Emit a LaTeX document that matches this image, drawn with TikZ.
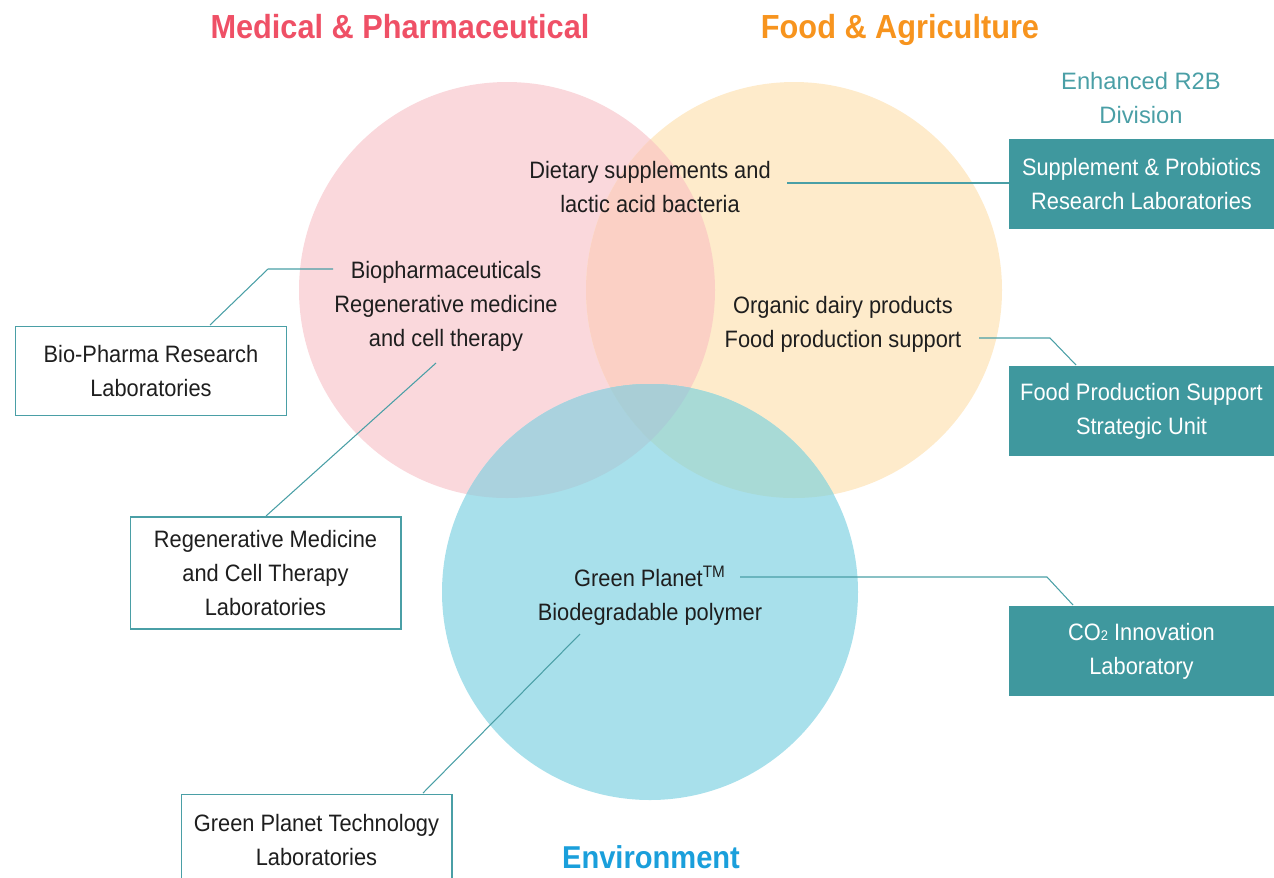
\documentclass[tikz,border=0pt]{standalone}
\usepackage{fontspec}
\setmainfont{Liberation Sans}[FakeStretch=0.92]
\newfontfamily\plainfont{Liberation Sans}
\usetikzlibrary{positioning}
\definecolor{medred}{HTML}{EF5066}
\definecolor{foodorange}{HTML}{F7941E}
\definecolor{envblue}{HTML}{1A9FDB}
\definecolor{tealbox}{HTML}{3F989E}
\definecolor{tealline}{HTML}{4A9FA6}
\definecolor{pinkfill}{HTML}{FAD8DC}
\definecolor{yellowfill}{HTML}{FEEBCB}
\definecolor{pyfill}{HTML}{FBD0C5}
\definecolor{bluefill}{HTML}{A8E0EB}
\definecolor{bpfill}{HTML}{AAD2DE}
\definecolor{byfill}{HTML}{A8DAD6}
\definecolor{allfill}{HTML}{A9CED6}
\definecolor{ink}{HTML}{1E1E1E}

\begin{document}
\begin{tikzpicture}[x=0.02cm, y=-0.02cm, every node/.style={font=\fontsize{13.5}{19.4}\selectfont, text=ink, align=center},
  title/.style={font=\fontsize{19}{22}\selectfont\bfseries, anchor=base},
  unit/.style={fill=tealbox, text=white, minimum width=5.3cm, minimum height=1.8cm, inner sep=0pt},
  lab/.style={draw=tealline, fill=white, line width=0.6pt, minimum width=5.42cm, inner sep=0pt},
  lead/.style={draw=tealline, line width=0.6pt}]
\useasboundingbox (0,0) rectangle (1274,877);
% circles
\coordinate (cmed) at (507,290);
\coordinate (cfood) at (794,290);
\coordinate (cenv) at (650,592);
\fill[pinkfill] (cmed) circle (208);
\fill[yellowfill] (cfood) circle (208);
\begin{scope}
\clip (cmed) circle (208);
\fill[pyfill] (cfood) circle (208);
\end{scope}
\fill[bluefill] (cenv) circle (208);
\begin{scope}
\clip (cenv) circle (208);
\fill[bpfill] (cmed) circle (208);
\fill[byfill] (cfood) circle (208);
\clip (cmed) circle (208);
\fill[allfill] (cfood) circle (208);
\end{scope}
% titles
\node[title, text=medred] (tmed) at (400,38) {Medical \& Pharmaceutical};
\node[title, text=foodorange] (tfood) at (900,38) {Food \& Agriculture};
\node[title, text=envblue, font=\fontsize{18}{22}\selectfont\bfseries] (tenv) at (651,868) {Environment};
\node[font=\plainfont\fontsize{13.5}{19.4}\selectfont, text=tealline] (r2b) at (1141,98) {Enhanced R2B\\Division};
% texts in circles
\node (diet) at (650,187) {Dietary supplements and\\lactic acid bacteria};
\node (bio) at (446,306) {Biopharmaceuticals\\Regenerative medicine\\and cell therapy};
\node (dairy) at (843,324) {Organic dairy products\\Food production support};
\node (green) at (650,596) {Green Planet\textsuperscript{TM}\\Biodegradable polymer};
% units
\node[unit] (sup) at (1141.5,184) {\textcolor{white}{Supplement \& Probiotics}\\\textcolor{white}{Research Laboratories}};
\node[unit] (fps) at (1141.5,411) {\textcolor{white}{Food Production Support}\\\textcolor{white}{Strategic Unit}};
\node[unit] (co2) at (1141.5,651) {\textcolor{white}{CO{\fontsize{8}{8}\selectfont 2} Innovation}\\\textcolor{white}{Laboratory}};
\node[lab, minimum height=1.78cm] (bpr) at (151,371) {Bio-Pharma Research\\Laboratories};
\node[lab, minimum height=2.24cm] (rmc) at (265.5,573) {Regenerative Medicine\\and Cell Therapy\\Laboratories};
\node[lab, minimum height=1.82cm] (gpt) at (316.5,840) {Green Planet Technology\\Laboratories};
% leaders
\coordinate (supA) at (787,183);
\draw[lead] (supA) -- (sup.west |- supA);
\coordinate (fpsA) at (979,338);
\coordinate (fpsB) at (1050,338);
\coordinate (fpsC) at (1076,365);
\draw[lead] (fpsA) -- (fpsB) -- (fpsC);
\coordinate (co2A) at (740,577);
\coordinate (co2B) at (1047,577);
\coordinate (co2C) at (1073,605);
\draw[lead] (co2A) -- (co2B) -- (co2C);
\coordinate (bprA) at (333,269);
\coordinate (bprB) at (268,269);
\coordinate (bprC) at (210,325);
\draw[lead] (bprA) -- (bprB) -- (bprC);
\coordinate (rmcA) at (436,363);
\coordinate (rmcC) at (266,516);
\draw[lead] (rmcA) -- (rmcC);
\coordinate (gptA) at (580,634);
\coordinate (gptC) at (423,793);
\draw[lead] (gptA) -- (gptC);
\end{tikzpicture}
\end{document}
